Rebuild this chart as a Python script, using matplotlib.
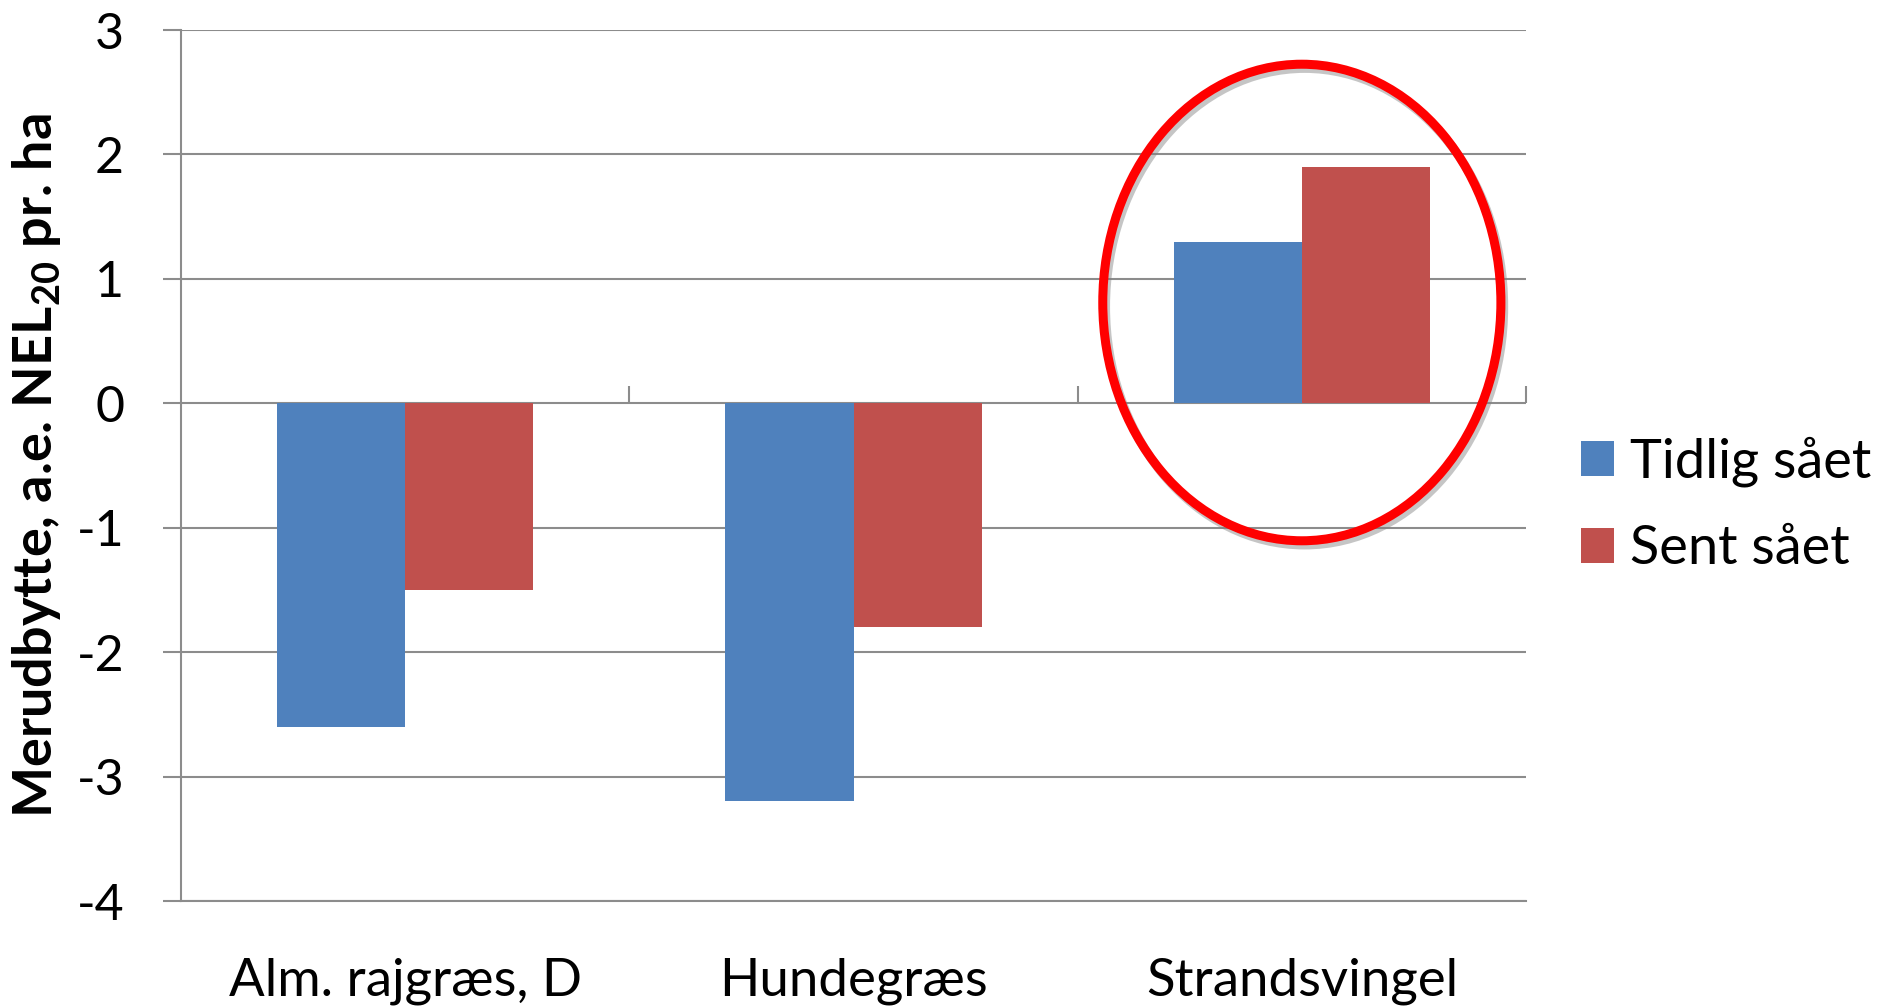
import matplotlib
matplotlib.use("Agg")
import matplotlib.pyplot as plt
from matplotlib.patches import Ellipse
import matplotlib.patheffects as pe
import numpy as np

plt.rcParams['font.family'] = ['Lato', 'DejaVu Sans']
plt.rcParams['axes.unicode_minus'] = False
plt.rcParams['mathtext.fontset'] = 'custom'
plt.rcParams['mathtext.rm'] = 'Lato'
plt.rcParams['mathtext.bf'] = 'Lato:bold'

# ---- data ----
categories = ["Alm. rajgræs, D", "Hundegræs", "Strandsvingel"]
series_names = ["Tidlig sået", "Sent sået"]
tidlig = [-2.6, -3.2, 1.3]
sent = [-1.5, -1.8, 1.9]
y_ticks = [-4, -3, -2, -1, 0, 1, 2, 3]
y_label = "Merudbytte, a.e. NEL$_{\\mathbf{20}}$ pr. ha"

colors = ["#4F81BD", "#C0504D"]
grid_c = "#8c8c8c"

fig = plt.figure(figsize=(18.96, 10.07), dpi=100)
ax = fig.add_axes([181/1896, 1 - 901/1007, 1345/1896, 871/1007])

x = np.arange(len(categories))
bw = 1 / 3.5
ax.bar(x - bw/2, tidlig, width=bw, color=colors[0], label=series_names[0], zorder=3)
ax.bar(x + bw/2, sent, width=bw, color=colors[1], label=series_names[1], zorder=3)

ax.set_xlim(-0.5, len(categories) - 0.5)
ax.set_ylim(min(y_ticks), max(y_ticks))
ax.set_yticks(y_ticks)
ax.set_yticklabels([str(v) for v in y_ticks])
ax.yaxis.grid(True, color=grid_c, lw=1.5, zorder=1)
ax.set_axisbelow(True)

for s in ['top', 'right']:
    ax.spines[s].set_visible(False)
for s in ['left', 'bottom']:
    ax.spines[s].set_color(grid_c)
    ax.spines[s].set_linewidth(1.5)

ax.tick_params(axis='y', direction='out', length=13, width=1.5, color=grid_c,
               labelsize=36, pad=28)
ax.set_xticks(x)
ax.set_xticklabels(categories)
ax.tick_params(axis='x', length=0, labelsize=38, pad=41)

# category axis crossing at zero
y0, y1 = ax.get_ylim()
sec = ax.secondary_xaxis((0 - y0) / (y1 - y0))
sec.set_xticks(list(x + 0.5))
sec.set_xticklabels([])
sec.tick_params(axis='x', direction='out', length=12, width=1.5, color=grid_c)
sec.spines['bottom'].set_color(grid_c)
sec.spines['bottom'].set_linewidth(1.5)
for s in ['top', 'left', 'right']:
    sec.spines[s].set_visible(False)

ax.set_ylabel(y_label, fontsize=39, fontweight='bold')
ax.yaxis.set_label_coords(-0.088, 0.5)

# highlight ellipse around last category
ell = Ellipse((x[-1], 0.81), width=0.888, height=3.83, facecolor='none',
              edgecolor='#ff0000', lw=6.5, zorder=5, clip_on=False)
ell.set_path_effects([pe.SimpleLineShadow(offset=(2, -3), shadow_color='gray', alpha=0.45),
                      pe.Normal()])
ax.add_patch(ell)

ax.legend(loc='center left', bbox_to_anchor=(1581/1896, 1 - 505/1007),
          bbox_transform=fig.transFigure, frameon=False, fontsize=39,
          handlelength=0.61, handleheight=0.61, handletextpad=0.3,
          labelspacing=0.68, borderpad=0, borderaxespad=0)

fig.savefig("out.png", dpi=100)
